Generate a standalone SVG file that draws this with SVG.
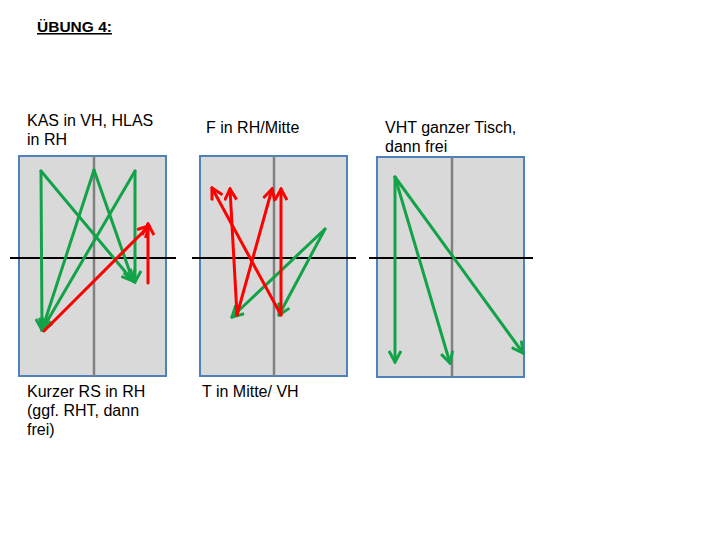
<svg xmlns="http://www.w3.org/2000/svg" width="720" height="540" viewBox="0 0 720 540">
<style>
text{font-family:"Liberation Sans",Arial,sans-serif;font-size:16px;fill:#000}
.tbl{fill:#d9d9d9;stroke:#4f81bd;stroke-width:2}
.mid{stroke:#808080;stroke-width:2.5}
.net{stroke:#000;stroke-width:2}
.g{stroke:#12a348;stroke-width:3;fill:none;stroke-linecap:round}
.r{stroke:#ff0000;stroke-width:3;fill:none;stroke-linecap:round}
.ga{marker-end:url(#ag)}
.ra{marker-end:url(#ar)}
</style>
<defs>
<marker id="ag" viewBox="0 0 14 14" refX="12" refY="7" markerWidth="14" markerHeight="14" markerUnits="userSpaceOnUse" orient="auto">
<path d="M1,1 L12,7 L1,13" fill="none" stroke="#12a348" stroke-width="3" stroke-linejoin="miter"/>
</marker>
<marker id="ar" viewBox="0 0 14 14" refX="12" refY="7" markerWidth="14" markerHeight="14" markerUnits="userSpaceOnUse" orient="auto">
<path d="M1,1 L12,7 L1,13" fill="none" stroke="#ff0000" stroke-width="3" stroke-linejoin="miter"/>
</marker>
</defs>
<rect width="720" height="540" fill="#fff"/>
<text id="title" x="37" y="32" style="font-weight:bold;font-size:15.5px;text-decoration:underline">ÜBUNG 4:</text>

<g id="table1">
<rect class="tbl" x="19" y="156" width="147" height="220"/>
<line class="mid" x1="94" y1="156" x2="94" y2="376"/>
<line class="net" x1="10" y1="258" x2="176" y2="258"/>
<text x="27" y="126">KAS in VH, HLAS</text>
<text x="27" y="145">in RH</text>
<text x="27" y="397">Kurzer RS in RH</text>
<text x="27" y="416">(ggf. RHT, dann</text>
<text x="27" y="435">frei)</text>
</g>
<g id="table2">
<rect class="tbl" x="200" y="156" width="147" height="220"/>
<line class="mid" x1="274" y1="156" x2="274" y2="376"/>
<line class="net" x1="192" y1="258" x2="356" y2="258"/>
<text x="206" y="133">F in RH/Mitte</text>
<text x="202" y="397">T in Mitte/ VH</text>
</g>
<g id="table3">
<rect class="tbl" x="377" y="157" width="147" height="220"/>
<line class="mid" x1="452" y1="157" x2="452" y2="377"/>
<line class="net" x1="369" y1="258" x2="533" y2="258"/>
<text x="385" y="133">VHT ganzer Tisch,</text>
<text x="385" y="152">dann frei</text>
</g>

<g id="connectors">
<!-- table 1 -->
<line class="g ga" x1="41" y1="171" x2="42" y2="330"/>
<line class="g ga" x1="41" y1="171" x2="133" y2="281"/>
<line class="g ga" x1="94" y1="170" x2="42" y2="330"/>
<line class="g ga" x1="94" y1="170" x2="133" y2="281"/>
<line class="g ga" x1="135" y1="171" x2="135" y2="282"/>
<line class="g ga" x1="135" y1="171" x2="42" y2="330"/>
<line class="r ra" x1="44" y1="331" x2="149" y2="226"/>
<line class="r ra" x1="148" y1="283" x2="148" y2="224"/>
<!-- table 2 -->
<line class="g ga" x1="325" y1="229" x2="232" y2="317"/>
<line class="g ga" x1="325" y1="229" x2="279" y2="315"/>
<line class="r ra" x1="237" y1="315" x2="230" y2="189"/>
<line class="r ra" x1="237" y1="315" x2="272" y2="189"/>
<line class="r ra" x1="281" y1="315" x2="212" y2="188"/>
<line class="r ra" x1="281" y1="315" x2="281" y2="189"/>
<!-- table 3 -->
<line class="g ga" x1="395" y1="177" x2="395" y2="362"/>
<line class="g ga" x1="395" y1="177" x2="450" y2="363"/>
<line class="g ga" x1="395" y1="177" x2="523" y2="353"/>
</g>
</svg>
